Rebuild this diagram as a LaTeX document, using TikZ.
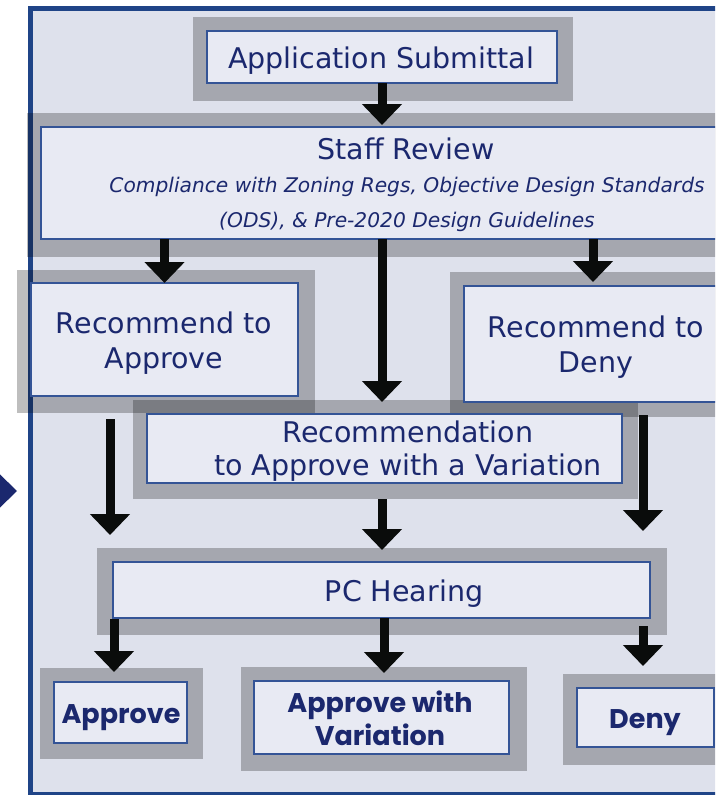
\documentclass[tikz,border=0pt]{standalone}
\usepackage{fontspec}
\setmainfont{DejaVu Sans}
\newfontfamily\geofont{Poppins}
\usetikzlibrary{arrows.meta}

\definecolor{panelbg}{RGB}{222,225,236}
\definecolor{panelline}{RGB}{31,68,135}
\definecolor{boxfill}{RGB}{232,234,243}
\definecolor{boxline}{RGB}{52,84,150}
\definecolor{navy}{RGB}{27,40,110}
\definecolor{arrowink}{RGB}{10,12,11}

\begin{document}
\begin{tikzpicture}[x=1pt,y=-1pt,
  frame/.style={fill=black, fill opacity=0.255, draw=none, inner sep=0pt, outer sep=0pt, anchor=north west},
  box/.style={draw=boxline, line width=1.2pt, fill=boxfill, inner sep=0pt, outer sep=0pt, anchor=north west},
  txt/.style={text=navy, inner sep=0pt, anchor=base, font=\fontsize{28.5}{34}\selectfont},
  itxt/.style={text=navy, inner sep=0pt, anchor=base, font=\fontsize{20.2}{25}\selectfont\itshape},
  btxt/.style={text=navy, inner sep=0pt, anchor=base, font=\geofont\bfseries\fontsize{27}{32}\selectfont},
  arr/.style={draw=arrowink, line width=9pt, -{Triangle[width=39pt,length=21pt]}}
]
\useasboundingbox (0,0) rectangle (715,795);
\clip (0,0) rectangle (715,795);

% panel
\draw[fill=panelbg, draw=panelline, line width=5pt] (30.5,8.5) rectangle (760,794.5);

% grey frames
\node[frame, minimum width=380pt, minimum height=84pt]  (appF) at (193,17)  {};
\node[frame, minimum width=740pt, minimum height=144pt] (stF)  at (27,113)  {};
\node[frame, minimum width=298pt, minimum height=143pt] (raF)  at (17,270)  {};
\node[frame, minimum width=300pt, minimum height=145pt] (rdF)  at (450,272) {};
\node[frame, minimum width=505pt, minimum height=99pt]  (rvF)  at (133,400) {};
\node[frame, minimum width=570pt, minimum height=87pt]  (pcF)  at (97,548)  {};
\node[frame, minimum width=163pt, minimum height=91pt]  (apF)  at (40,668)  {};
\node[frame, minimum width=286pt, minimum height=104pt] (awvF) at (241,667) {};
\node[frame, minimum width=200pt, minimum height=91pt]  (dnF)  at (563,674) {};

% boxes
\node[box, minimum width=350pt, minimum height=52pt]  (appI) at (207,31)  {};
\node[box, minimum width=700pt, minimum height=112pt] (stI)  at (41,127)  {};
\node[box, minimum width=267pt, minimum height=113pt] (raI)  at (31,283)  {};
\node[box, minimum width=258pt, minimum height=116pt] (rdI)  at (464,286) {};
\node[box, minimum width=475pt, minimum height=69pt]  (rvI)  at (147,414) {};
\node[box, minimum width=537pt, minimum height=56pt]  (pcI)  at (113,562) {};
\node[box, minimum width=133pt, minimum height=61pt]  (apI)  at (54,682)  {};
\node[box, minimum width=255pt, minimum height=73pt]  (awvI) at (254,681) {};
\node[box, minimum width=137pt, minimum height=59pt]  (dnI)  at (577,688) {};

% labels
\node[txt]  (appT)  at (381,68)  {Application Submittal};
\node[txt]  (stT)   at (406,159) {Staff Review};
\node[itxt] (stT1)  at (407,192) {Compliance with Zoning Regs, Objective Design Standards};
\node[itxt] (stT2)  at (407,227) {(ODS), \& Pre-2020 Design Guidelines};
\node[txt]  (raT1)  at (164,333) {Recommend to};
\node[txt]  (raT2)  at (164,368) {Approve};
\node[txt]  (rdT1)  at (596,337) {Recommend to};
\node[txt]  (rdT2)  at (596,372) {Deny};
\node[txt]  (rvT1)  at (408,442) {Recommendation};
\node[txt]  (rvT2)  at (408,475) {to Approve with a Variation};
\node[txt]  (pcT)   at (404,601) {PC Hearing};
\node[btxt] (apT)   at (121,723) {Approve};
\node[btxt] (awvT1) at (380,712) {Approve with};
\node[btxt] (awvT2) at (380,745) {Variation};
\node[btxt] (dnT)   at (645,728) {Deny};

% connectors
\coordinate (raOut) at (110,419);
\coordinate (rdOut) at (643,415);
\coordinate (pcOutL) at (114,619);
\coordinate (pcOutR) at (643,626);

\draw[arr, shorten >=2pt] (appI.south) -- (appI.south |- stI.north);
\draw[arr] (raI.north |- stI.south) -- (raI.north);
\draw[arr, shorten >=4pt] (rdI.north |- stI.south) -- (rdI.north);
\draw[arr] (appI.south |- stI.south) -- ([yshift=-2pt]appI.south |- rvF.north);
\draw[arr, shorten >=13pt] (raOut) -- (raOut |- pcF.north);
\draw[arr, shorten >=17pt] (rdOut) -- (rdOut |- pcF.north);
\draw[arr] (rvF.south -| appI.south) -- ([yshift=-2pt]pcF.north -| appI.south);
\draw[arr] (pcOutL) -- ([yshift=-4pt]pcOutL |- apF.north);
\draw[arr] (awvF.north |- pcI.south) -- ([yshift=-6pt]awvF.north);
\draw[arr, shorten >=8pt] (pcOutR) -- (pcOutR |- dnF.north);

% pointer on the left edge
\fill[navy] (-20,455) -- (17,491) -- (-20,527) -- cycle;
\end{tikzpicture}
\end{document}
